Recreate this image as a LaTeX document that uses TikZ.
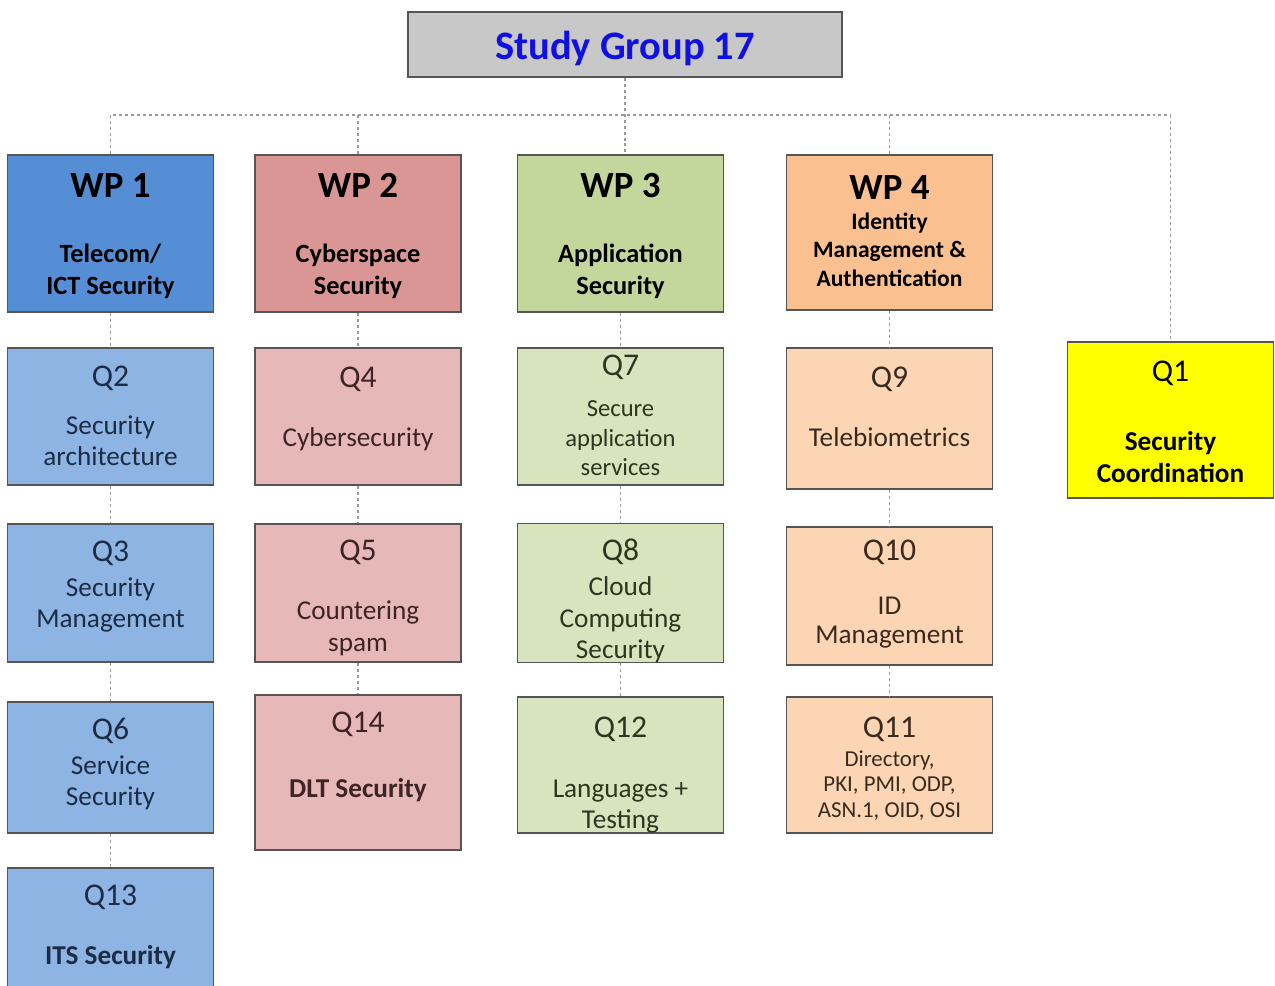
\documentclass[tikz,border=0pt]{standalone}
\usepackage{fontspec}
\setmainfont{Carlito}
\usepackage{tikz}
\usetikzlibrary{
  calc,
  positioning
}
\definecolor{sggray}{HTML}{C8C8C8}
\definecolor{sgblue}{HTML}{1010E6}
\definecolor{edge}{HTML}{555555}
\definecolor{linkgray}{HTML}{9A9A9A}
\definecolor{wpblue}{HTML}{558ED5}
\definecolor{wpred}{HTML}{DA9694}
\definecolor{wpgreen}{HTML}{C3D69B}
\definecolor{wporange}{HTML}{FAC090}
\definecolor{qblue}{HTML}{8EB4E3}
\definecolor{qred}{HTML}{E6B9B8}
\definecolor{qgreen}{HTML}{D7E4BD}
\definecolor{qorange}{HTML}{FCD5B5}
\definecolor{qyellow}{HTML}{FFFF00}
\definecolor{inkblue}{HTML}{1C2C44}
\definecolor{inkred}{HTML}{3E2424}
\definecolor{inkgreen}{HTML}{2C3620}
\definecolor{inkorange}{HTML}{3A2A1E}
\newcommand{\wpnum}{\fontsize{21}{25}\selectfont\bfseries}
\newcommand{\qnum}{\fontsize{18}{22}\selectfont\mdseries}
\tikzset{
  box/.style={
    draw=edge,
    line width=0.9pt,
    minimum width=4.12cm,
    align=center,
    inner sep=2pt
  },
  wpbox/.style={
    box,
    minimum height=3.14cm,
    font=\fontsize{15}{18}\selectfont\bfseries
  },
  qbox/.style={
    box,
    font=\fontsize{15.5}{18}\selectfont
  },
  % puts the last text line at a fixed depth below the centre
  lastline/.style={text depth=0pt, text height=#1},
  colone/.style={fill=qblue, text=inkblue},
  coltwo/.style={fill=qred, text=inkred},
  colthree/.style={fill=qgreen, text=inkgreen},
  colfour/.style={fill=qorange, text=inkorange},
  link/.style={draw=linkgray, line width=1.1pt, dash pattern=on 1.7pt off 1.7pt}
}

\begin{document}
\begin{tikzpicture}[x=0.02cm, y=-0.02cm]
  \path[use as bounding box, clip] (0,0) rectangle (1275,986);

  \node[box, fill=sggray, minimum width=8.68cm, minimum height=1.3cm,
    text=sgblue, font=\fontsize{23}{26}\selectfont\bfseries,
    lastline=17.5pt] (sg17) at (625,44.5) {Study Group 17};

  % work parties
  \node[wpbox, fill=wpblue, text=black, lastline=69pt] (wp1)
    at (110.5,233.5) {{\wpnum WP 1}\\[19pt]Telecom/\\ICT Security};
  \node[wpbox, fill=wpred, text=black, lastline=69pt] (wp2)
    at (358,233.5) {{\wpnum WP 2}\\[19pt]Cyberspace\\Security};
  \node[wpbox, fill=wpgreen, text=black, lastline=69pt] (wp3)
    at (620.5,233.5) {{\wpnum WP 3}\\[19pt]Application\\Security};
  \node[wpbox, fill=wporange, text=black, minimum height=3.1cm,
    font=\fontsize{13.4}{16}\selectfont\bfseries, lastline=61pt] (wp4)
    at (889.5,232.5) {{\wpnum WP 4}\\[1pt]Identity\\Management \&\\Authentication};

  \node[qbox, fill=qyellow, text=black, minimum height=3.12cm,
    font=\fontsize{15.5}{18}\selectfont\bfseries, lastline=70.6pt] (q1)
    at (1170.5,420) {{\qnum Q1}\\[21pt]Security\\Coordination};

  % questions of WP 1
  \node[qbox, colone, minimum height=2.74cm, lastline=56.3pt] (q2)
    at (110.5,416.5) {{\qnum Q2}\\[9pt]Security\\architecture};
  \node[qbox, colone, minimum height=2.76cm, lastline=39.8pt] (q3)
    at (110.5,593) {{\qnum Q3}\\[2pt]Security\\Management};
  \node[qbox, colone, minimum height=2.62cm, lastline=43.8pt] (q6)
    at (110.5,767.5) {{\qnum Q6}\\[2pt]Service\\Security};
  \node[qbox, colone, minimum height=2.6cm, lastline=36.4pt] (q13)
    at (110.5,933) {{\qnum Q13}\\[16pt]\textbf{ITS Security}};

  % questions of WP 2
  \node[qbox, coltwo, minimum height=2.74cm, lastline=34.7pt] (q4)
    at (358,416.5) {{\qnum Q4}\\[16pt]Cybersecurity};
  \node[qbox, coltwo, minimum height=2.76cm, lastline=66.5pt] (q5)
    at (358,593) {{\qnum Q5}\\[16pt]Countering\\spam};
  \node[qbox, coltwo, minimum height=3.1cm, lastline=29pt] (q14)
    at (358,772.5) {{\qnum Q14}\\[19pt]\textbf{DLT Security}};

  % questions of WP 3
  \node[qbox, colthree, minimum height=2.74cm,
    font=\fontsize{14}{17}\selectfont, lastline=67.7pt] (q7)
    at (620.5,416.5) {{\qnum Q7}\\[6pt]Secure\\application\\services};
  \node[qbox, colthree, minimum height=2.76cm, lastline=75pt] (q8)
    at (620.5,593) {{\qnum Q8}\\[2pt]Cloud\\Computing\\Security};
  \node[qbox, colthree, minimum height=2.72cm, lastline=72.8pt] (q12)
    at (620.5,765) {{\qnum Q12}\\[16pt]Languages +\\Testing};

  % questions of WP 4
  \node[qbox, colfour, minimum height=2.82cm, lastline=32.4pt] (q9)
    at (889.5,418.5) {{\qnum Q9}\\[16pt]Telebiometrics};
  \node[qbox, colfour, minimum height=2.76cm, lastline=54.6pt] (q10)
    at (889.5,596) {{\qnum Q10}\\[13pt]ID\\[-1.5pt]Management};
  \node[qbox, colfour, minimum height=2.72cm,
    font=\fontsize{13}{14.5}\selectfont, lastline=59.5pt] (q11)
    at (889.5,765) {{\qnum Q11}\\[2pt]Directory,\\PKI, PMI, ODP,\\ASN.1, OID, OSI};

  % dotted tree
  \coordinate (bus) at (625,115);
  \draw[link] (sg17.south) -- (sg17.south |- wp3.north);
  \draw[link] (wp1.north) |- (bus) -| (q1.north);
  \draw[link] (wp2.north) -- (wp2.north |- bus);
  \draw[link] (wp4.north) -- (wp4.north |- bus);
  \foreach \a/\b in {wp1/q2, q2/q3, q3/q6, q6/q13, wp2/q4, q4/q5, q5/q14,
    wp3/q7, q7/q8, q8/q12, wp4/q9, q9/q10, q10/q11}
    \draw[link] (\a.south) -- (\b.north);
\end{tikzpicture}
\end{document}
